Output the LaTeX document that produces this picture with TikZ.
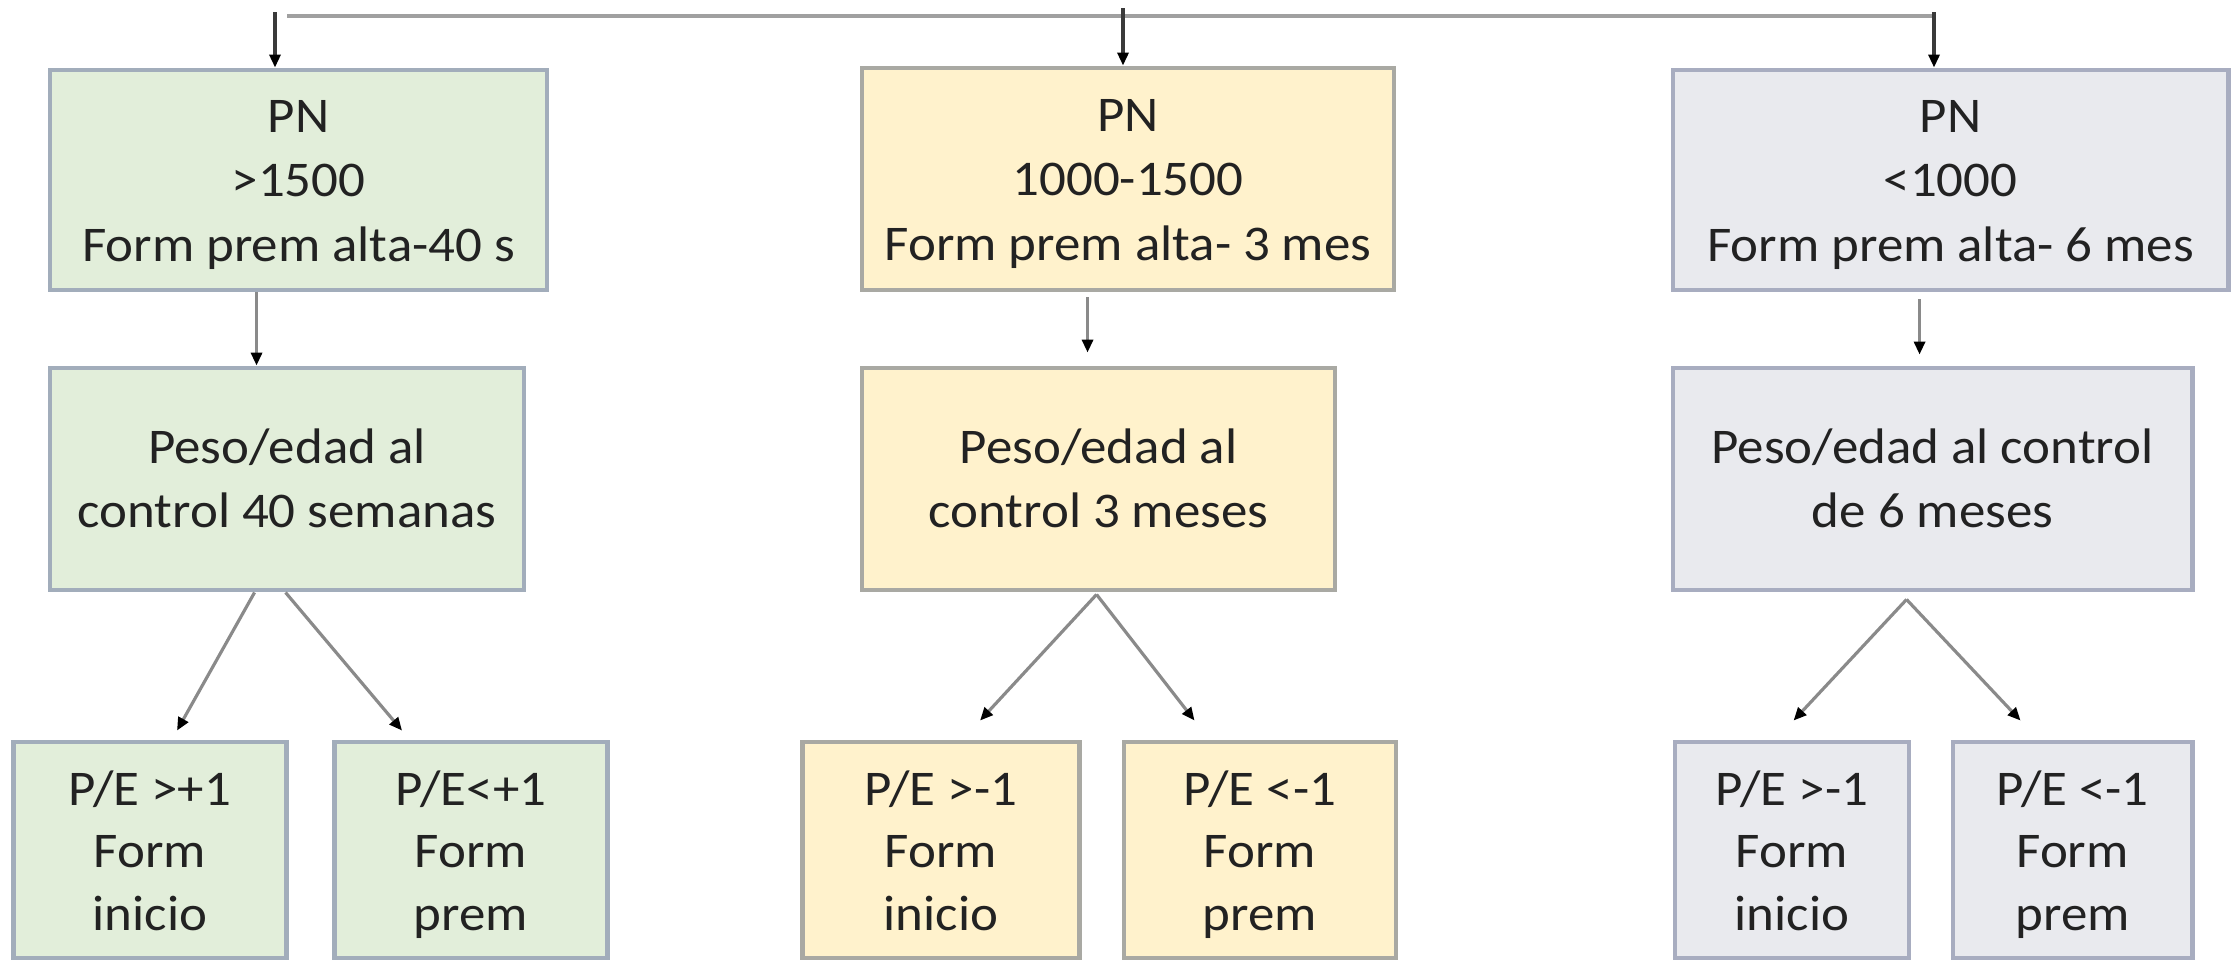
\documentclass[tikz,border=0pt]{standalone}
\usepackage{fontspec}
\usepackage{graphicx}
\setmainfont{Carlito}[FakeStretch=1.06]
\usetikzlibrary{arrows.meta,calc}
\definecolor{gfill}{HTML}{E2EEDA}
\definecolor{gline}{HTML}{A2ADBB}
\definecolor{yfill}{HTML}{FFF2CC}
\definecolor{yline}{HTML}{A9A9A3}
\definecolor{sfill}{HTML}{E9EAEE}
\definecolor{sline}{HTML}{A8ADC0}
\definecolor{txt}{HTML}{222222}
\definecolor{argray}{HTML}{8A8A8A}
\definecolor{ardark}{HTML}{3A3A3A}
\definecolor{hgray}{HTML}{A0A0A0}
\newcommand{\myhs}[1]{\rule{0pt}{#1}}
\newcommand{\myds}[1]{\rule[-#1]{0pt}{0pt}}
\begin{document}
\begin{tikzpicture}[x=0.01cm,y=-0.01cm,
  sz/.style 2 args={minimum width=#1*0.01cm, minimum height=#2*0.01cm},
  box/.style={draw, line width=1.4pt, inner sep=0pt, align=center, text=txt},
  topbox/.style={font=\fontsize{14.2}{18.35}\selectfont},
  midbox/.style={font=\fontsize{14.2}{18.2}\selectfont},
  lowbox/.style={font=\fontsize{14.2}{17.8}\selectfont},
  gbox/.style={box, fill=gfill, draw=gline},
  ybox/.style={box, fill=yfill, draw=yline},
  sbox/.style={box, fill=sfill, draw=sline},
  arr/.style={draw=argray, line width=0.9pt, -{Triangle[length=0.13cm,width=0.11cm,color=black]}},
  arrd/.style={draw=ardark, line width=0.9pt, -{Triangle[length=0.13cm,width=0.11cm,color=black]}},
  hline/.style={draw=hgray, line width=1.1pt}
]
\useasboundingbox (0,0) rectangle (2234,959);

% top row
\node[gbox, topbox, sz={497}{220}] (A1) at (298.5,180) {\myhs{12.9pt}PN\\>1500\\Form prem alta-40 s\myds{3.5pt}};
\node[ybox, topbox, sz={532}{222}] (B1) at (1128,179) {\myhs{12.9pt}PN\\1000-1500\\Form prem alta- 3 mes\myds{3.5pt}};
\node[sbox, topbox, sz={555}{220}] (C1) at (1950.5,180) {\myhs{12.9pt}PN\\<1000\\Form prem alta- 6 mes\myds{3.5pt}};

% middle row
\node[gbox, midbox, sz={474}{222}] (A2) at (287,479) {\myhs{12.6pt}Peso/edad al\\control 40 semanas\myds{3.5pt}};
\node[ybox, midbox, sz={473}{222}] (B2) at (1098.5,479) {\myhs{12.6pt}Peso/edad al\\control 3 meses\myds{3.5pt}};
\node[sbox, midbox, sz={519}{222}] (C2) at (1932.5,479) {\myhs{12.6pt}Peso/edad al control\\de 6 meses\myds{3.5pt}};

% bottom row
\node[gbox, lowbox, sz={273}{216}] (A3) at (150,850) {\myhs{13.5pt}P/E >+1\\Form\\inicio\myds{3.5pt}};
\node[gbox, lowbox, sz={273}{216}] (A4) at (471,850) {\myhs{13.5pt}P/E<+1\\Form\\prem\myds{3.5pt}};
\node[ybox, lowbox, sz={277}{216}] (B3) at (941,850) {\myhs{13.5pt}P/E >-1\\Form\\inicio\myds{3.5pt}};
\node[ybox, lowbox, sz={272}{216}] (B4) at (1260,850) {\myhs{13.5pt}P/E <-1\\Form\\prem\myds{3.5pt}};
\node[sbox, lowbox, sz={234}{216}] (C3) at (1792,850) {\myhs{13.5pt}P/E >-1\\Form\\inicio\myds{3.5pt}};
\node[sbox, lowbox, sz={239}{216}] (C4) at (2072.5,850) {\myhs{13.5pt}P/E <-1\\Form\\prem\myds{3.5pt}};

% top connectors
\coordinate (t0) at (275,12);
\coordinate (tm) at (1123,8);
\coordinate (h0) at (287,16);
\coordinate (h1) at (1934,16);
\coordinate (h2) at (1934,12);
\draw[hline] (h0) -- (h1);
\draw[arrd] (t0) -- (A1.north -| t0);
\draw[arrd] (tm) -- (B1.north -| tm);
\draw[arrd] (h2) -- (C1.north -| h2);

% column connectors
\draw[arr] ($(A1.south west)+(209,0)$) -- ($(A2.north west)+(209,0)$);
\draw[arr] ($(B1.south west)+(228,5)$) -- ($(B2.north west)+(228,-13)$);
\draw[arr] ($(C1.south west)+(249,7)$) -- ($(C2.north west)+(249,-11)$);

\draw[arr] ($(A2.south west)+(207,0)$) -- ($(A3.north west)+(166,-9)$);
\draw[arr] ($(A2.south west)+(238,0)$) -- ($(A4.north west)+(70,-9)$);
\draw[arr] ($(B2.south west)+(237,2)$) -- ($(B3.north west)+(180,-19)$);
\draw[arr] ($(B2.south west)+(237,2)$) -- ($(B4.north west)+(73,-19)$);
\draw[arr] ($(C2.south west)+(236,7)$) -- ($(C3.north west)+(121,-19)$);
\draw[arr] ($(C2.south west)+(236,7)$) -- ($(C4.north west)+(70,-19)$);
\end{tikzpicture}
\end{document}
